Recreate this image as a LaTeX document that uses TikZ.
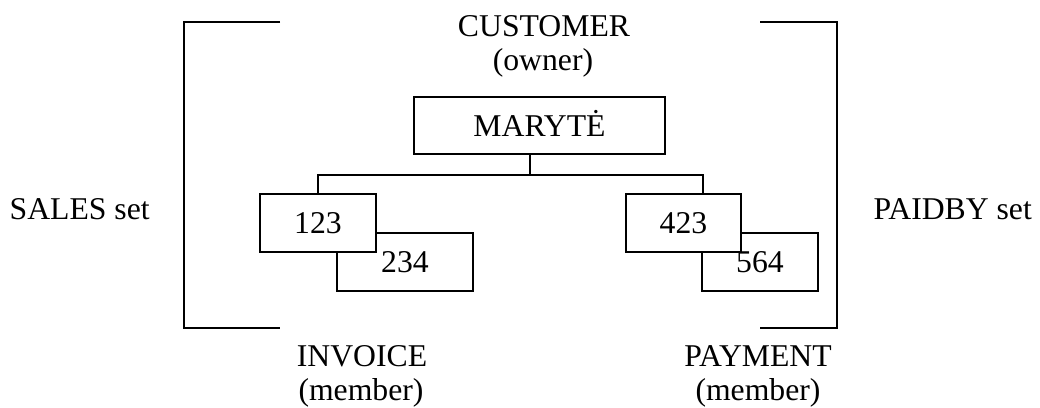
\documentclass[tikz,border=0pt]{standalone}
\usepackage{fontspec}
\setmainfont{Liberation Serif}
\begin{document}
\begin{tikzpicture}[x=1pt,y=-1pt,
  line width=1.3pt,
  every node/.style={font=\fontsize{31.7}{36}\selectfont},
  recbox/.style={draw, fill=white, inner sep=0pt, text height=21.5pt, text depth=0pt},
  lbl/.style={anchor=base, inner sep=0pt}]
\useasboundingbox (0,0) rectangle (1040,407);

% owner record
\node[recbox, minimum width=251pt, minimum height=57pt] (mar) at (539.5,125.5) {MARYTĖ};

% member records (the back ones first)
\node[recbox, minimum width=136pt, minimum height=58pt] (v234) at (405,262) {234};
\node[recbox, minimum width=116pt, minimum height=58pt] (v564) at (760,262) {};
\node[recbox, minimum width=116pt, minimum height=58pt] (v123) at (318,223) {123};
\node[recbox, minimum width=115pt, minimum height=58pt] (v423) at (683.5,223) {423};
\node[inner sep=0pt, text height=21.5pt, text depth=0pt] (t564) at (v564.center) {564};

% set links
\coordinate (j) at (530,175);
\coordinate (jr) at (703,175);
\draw (mar.south -| j) -- (j);
\draw (v123.north) |- (jr) -- (jr |- v423.north);

% set brackets
\coordinate (l1) at (280,22);  \coordinate (l2) at (184,22);
\coordinate (l3) at (184,328); \coordinate (l4) at (280,328);
\coordinate (r1) at (760,22);  \coordinate (r2) at (837,22);
\coordinate (r3) at (837,328); \coordinate (r4) at (760,328);
\draw (l1) -- (l2) -- (l3) -- (l4);
\draw (r1) -- (r2) -- (r3) -- (r4);

% labels
\node[lbl] (cust) at (544,36) {CUSTOMER};
\node[lbl] (own) at (543,70) {(owner)};
\node[lbl] (inv) at (362,366) {INVOICE};
\node[lbl] (invm) at (361,400) {(member)};
\node[lbl] (pay) at (758,366) {PAYMENT};
\node[lbl] (paym) at (758,400) {(member)};
\node[lbl, anchor=base west] (sales) at (9,219) {SALES set};
\node[lbl, anchor=base west] (paid) at (873,219) {PAIDBY set};
\end{tikzpicture}
\end{document}
